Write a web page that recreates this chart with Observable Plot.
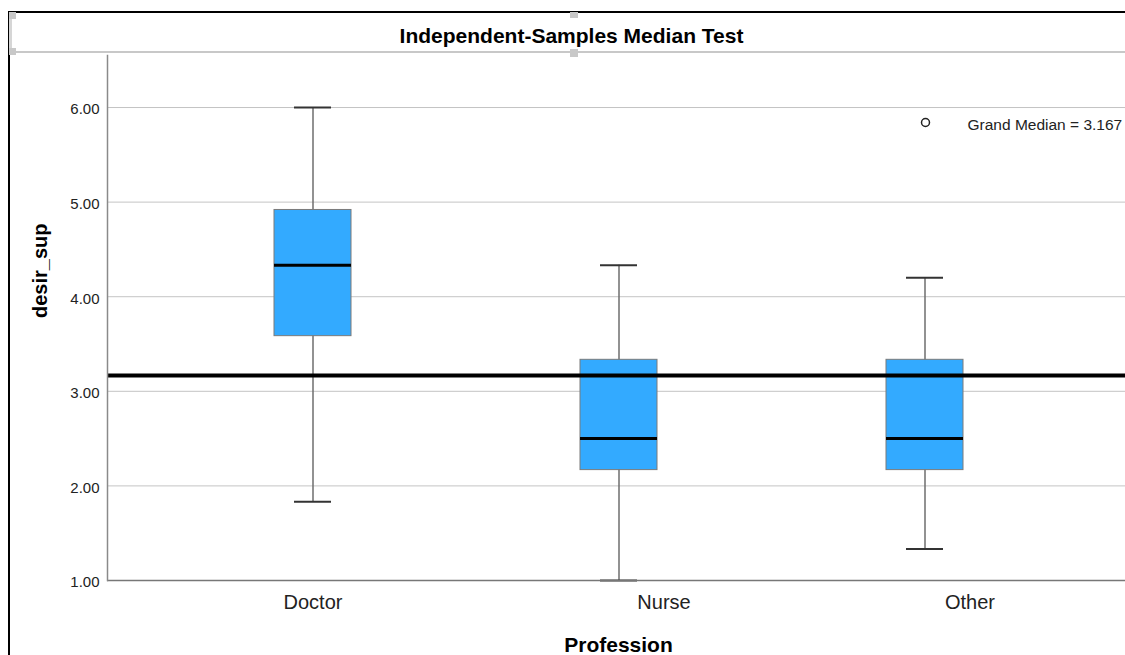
<!DOCTYPE html>
<html><head><meta charset="utf-8">
<script src="https://cdn.jsdelivr.net/npm/d3@7"></script>
<script src="https://cdn.jsdelivr.net/npm/@observablehq/plot@0.6"></script>
<style>
body{margin:0;background:#fff;}
#wrap{position:relative;width:1125px;height:655px;overflow:hidden;background:#fff;}
#wrap svg{position:absolute;left:0;top:0;}
.deco{position:absolute;}
</style></head><body>
<div id="wrap"></div>
<script>
// Data
const professions = ["Doctor", "Nurse", "Other"];
const whiskerLow  = [1.833, 1.000, 1.333];
const quartile1   = [3.583, 2.167, 2.167];
const medians     = [4.333, 2.500, 2.500];
const quartile3   = [4.917, 3.333, 3.333];
const whiskerHigh = [6.000, 4.333, 4.200];
const grandMedian = 3.167;
const yTicks = [1, 2, 3, 4, 5, 6];
const titleText = "Independent-Samples Median Test";
const xLabel = "Profession";
const yLabel = "desir_sup";

const rows = professions.map((p, i) => ({
  profession: p, lo: whiskerLow[i], q1: quartile1[i], med: medians[i], q3: quartile3[i], hi: whiskerHigh[i]
}));

const font = '"Liberation Sans", Arial, sans-serif';

const chart = Plot.plot({
  width: 1125, height: 655,
  marginLeft: 107, marginRight: 0, marginTop: 55, marginBottom: 75,
  style: {fontFamily: font, background: "transparent", color: "#222"},
  x: {type: "band", domain: professions, range: [107, 1129], paddingInner: 0.749, paddingOuter: 0.539, axis: null},
  y: {domain: [1, 6.55], label: null},
  marks: [
    Plot.ruleY(yTicks.slice(1), {stroke: "#c4c4c4", strokeWidth: 1}),
    Plot.ruleX(rows, {x: "profession", y1: "lo", y2: "hi", stroke: "#6e6e6e", strokeWidth: 1.5}),
    Plot.tickY(rows, {x: "profession", y: "hi", stroke: "#333", strokeWidth: 2, insetLeft: 20, insetRight: 20}),
    Plot.tickY(rows, {x: "profession", y: "lo", stroke: "#333", strokeWidth: 2, insetLeft: 20, insetRight: 20}),
    Plot.barY(rows, {x: "profession", y1: "q1", y2: "q3", fill: "#33aaff", stroke: "#7a7a7a", strokeWidth: 1}),
    Plot.tickY(rows, {x: "profession", y: "med", stroke: "#000", strokeWidth: 3}),
    Plot.ruleY([grandMedian], {stroke: "#000", strokeWidth: 4}),
    Plot.ruleY([yTicks[0]], {stroke: "#777", strokeWidth: 1.5}),
    Plot.frame({anchor: "left", stroke: "#8a8a8a", strokeWidth: 1.5}),
    Plot.axisY(yTicks, {tickSize: 0, tickPadding: 8, tickFormat: d => d.toFixed(2), fontSize: 15, dy: 2, label: null, color: "#222"}),
    Plot.text(professions.slice(0, 1), {x: d => d, text: d => d, frameAnchor: "bottom", lineAnchor: "middle", dy: 22, fontSize: 20, fill: "#222"}),
    Plot.text(professions.slice(1), {x: d => d, text: d => d, frameAnchor: "bottom", lineAnchor: "middle", dy: 22, dx: 45, fontSize: 20, fill: "#222"}),
    Plot.text([xLabel], {text: d => d, frameAnchor: "bottom", lineAnchor: "middle", dy: 65, dx: 2, fontSize: 21, fontWeight: "bold", fill: "#000"}),
    Plot.text([yLabel], {text: d => d, frameAnchor: "left", lineAnchor: "middle", rotate: -90, dx: -67, fontSize: 20, fontWeight: "bold", fill: "#000"}),
    Plot.text([titleText], {text: d => d, frameAnchor: "top", lineAnchor: "middle", dy: -19, dx: -45, fontSize: 21, fontWeight: "bold", fill: "#000"}),
    Plot.dot([grandMedian], {frameAnchor: "top-left", dx: 818, dy: 67, r: 4, stroke: "#222", fill: "white", strokeWidth: 1.5}),
    Plot.text([grandMedian], {text: d => `Grand Median = ${d.toFixed(3)}`, frameAnchor: "top-left", lineAnchor: "middle", dx: 860, dy: 70, textAnchor: "start", fontSize: 15.5, fill: "#222"})
  ]
});

const wrap = document.getElementById("wrap");
wrap.appendChild(chart);

// SPSS viewer frame decorations
const deco = [
  {l: 8, t: 11, w: 1117, h: 2, c: "#000"},
  {l: 8, t: 11, w: 2, h: 644, c: "#000"},
  {l: 10, t: 51, w: 1115, h: 2, c: "#c8c8c8"},
  {l: 9, t: 12, w: 7, h: 7, c: "#c8c8c8"},
  {l: 9, t: 19, w: 3, h: 30, c: "#d6d6d6"},
  {l: 9, t: 48, w: 7, h: 7, c: "#c8c8c8"},
  {l: 570, t: 12, w: 8, h: 6, c: "#c8c8c8"},
  {l: 570, t: 49, w: 8, h: 8, c: "#c8c8c8"}
];
for (const d of deco) {
  const e = document.createElement("div");
  e.className = "deco";
  e.style.cssText = `left:${d.l}px;top:${d.t}px;width:${d.w}px;height:${d.h}px;background:${d.c};`;
  wrap.appendChild(e);
}
</script>
</body></html>
